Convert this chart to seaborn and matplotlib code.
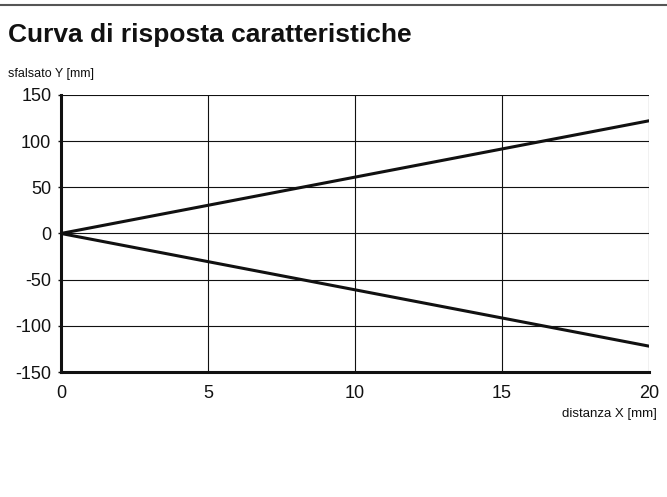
import pandas as pd
import matplotlib.pyplot as plt
import seaborn as sns
from matplotlib.lines import Line2D

# data
distanza = [0, 20]
ramo_sup = [0, 122]
ramo_inf = [0, -122]
x_ticks = [0, 5, 10, 15, 20]
y_ticks = [-150, -100, -50, 0, 50, 100, 150]

df = pd.DataFrame({
    "x": distanza + distanza,
    "y": ramo_sup + ramo_inf,
    "ramo": ["sup"] * len(distanza) + ["inf"] * len(distanza),
})

sns.set_theme(style="white")
plt.rcParams["font.family"] = ["Liberation Sans", "DejaVu Sans"]
plt.rcParams["axes.unicode_minus"] = False

fig = plt.figure(figsize=(6.67, 4.97), dpi=100)
ax = fig.add_axes([0.0915, 0.2515, 0.8815, 0.5575])

sns.lineplot(data=df, x="x", y="y", hue="ramo", palette=["#111111", "#111111"],
             linewidth=2.2, legend=False, ax=ax, zorder=3)

ax.set_xlim(0, 20)
ax.set_ylim(-150, 150)
ax.set_xticks(x_ticks)
ax.set_yticks(y_ticks)
ax.grid(True, color="#111111", linewidth=0.8)
ax.set_axisbelow(True)

for side in ["top", "right"]:
    ax.spines[side].set_visible(False)
for side in ["left", "bottom"]:
    ax.spines[side].set_linewidth(2.2)
    ax.spines[side].set_color("#111111")

ax.tick_params(axis="y", labelsize=13, colors="#111111", length=2.5,
               width=1, pad=4.5, direction="out", left=True)
ax.tick_params(axis="x", labelsize=13, colors="#111111", length=0,
               pad=9, bottom=False)
ax.set_xlabel("")
ax.set_ylabel("")

# labels
fig.text(0.012, 0.851, "sfalsato Y [mm]", fontsize=9, color="#111111", va="center", ha="left")
fig.text(0.985, 0.168, "distanza X [mm]", fontsize=9.5, color="#111111", va="center", ha="right")
fig.text(0.012, 0.93, "Curva di risposta caratteristiche", fontsize=19,
         fontweight="bold", color="#111111", va="center", ha="left")

# top rule
fig.add_artist(Line2D([0, 1], [0.99, 0.99], color="#555555", linewidth=1.5,
                      transform=fig.transFigure))

fig.savefig("out.png", dpi=100)
